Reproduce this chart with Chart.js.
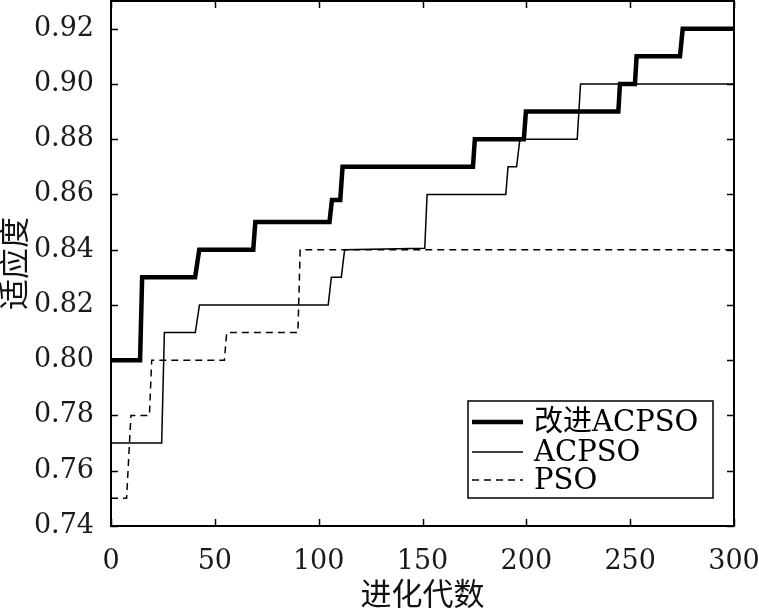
<!DOCTYPE html>
<html>
<head>
<meta charset="utf-8">
<script src="https://cdn.jsdelivr.net/npm/chart.js@4.4.0/dist/chart.umd.min.js"></script>
<style>
  html, body { margin: 0; padding: 0; background: #fff; }
  #wrap { width: 759px; height: 608px; }
</style>
</head>
<body>
<div id="wrap"><canvas id="chart"></canvas></div>
<script>
// Data (generation, fitness) for each step curve
const improvedGen = [0, 14, 15, 40.5, 42.5, 68.5, 69.5, 105.2, 106.4, 110.4, 111.5, 174.3, 175.2, 198.8, 199.8, 244.3, 245.1, 252.3, 253.1, 274, 275.3, 300];
const improvedVal = [0.80, 0.80, 0.83, 0.83, 0.84, 0.84, 0.85, 0.85, 0.858, 0.858, 0.87, 0.87, 0.88, 0.88, 0.89, 0.89, 0.90, 0.90, 0.91, 0.91, 0.92, 0.92];

const acpsoGen = [0, 24.4, 25.7, 40.6, 42.6, 104.6, 106.1, 110.9, 112.5, 151.1, 152.2, 190.1, 191.2, 195.3, 196.9, 224.5, 226.1, 300];
const acpsoVal = [0.77, 0.77, 0.81, 0.81, 0.82, 0.82, 0.83, 0.83, 0.84, 0.8405, 0.86, 0.86, 0.87, 0.87, 0.88, 0.88, 0.90, 0.90];

const psoGen = [0, 7.5, 9.6, 18.5, 19.6, 54.6, 55.7, 90, 91.1, 300];
const psoVal = [0.75, 0.75, 0.78, 0.78, 0.80, 0.80, 0.81, 0.81, 0.84, 0.84];

const seriesNames = ['改进ACPSO', 'ACPSO', 'PSO'];
const xTicks = [0, 50, 100, 150, 200, 250, 300];
const yTicks = [0.74, 0.76, 0.78, 0.80, 0.82, 0.84, 0.86, 0.88, 0.90, 0.92];

const serif = "'DejaVu Serif', serif";
const cjk = "'Noto Sans CJK SC', sans-serif";

function toPoints(gens, vals) {
  return gens.map((g, i) => ({ x: g, y: vals[i] }));
}

// frame, inward ticks on all four sides, and the boxed legend
const framePlugin = {
  id: 'frame',
  afterDatasetsDraw(chart) {
    const { ctx, chartArea: a, scales } = chart;
    const len = 7;
    ctx.save();
    ctx.strokeStyle = '#000';
    ctx.lineWidth = 1.5;
    ctx.beginPath();
    xTicks.forEach(v => {
      const px = Math.round(scales.x.getPixelForValue(v)) + 0.5;
      ctx.moveTo(px, a.bottom); ctx.lineTo(px, a.bottom - len);
      ctx.moveTo(px, a.top); ctx.lineTo(px, a.top + len);
    });
    yTicks.forEach(v => {
      const py = Math.round(scales.y.getPixelForValue(v)) + 0.5;
      ctx.moveTo(a.left, py); ctx.lineTo(a.left + len, py);
      ctx.moveTo(a.right, py); ctx.lineTo(a.right - len, py);
    });
    ctx.stroke();
    ctx.lineWidth = 2;
    ctx.strokeRect(a.left, a.top, a.right - a.left, a.bottom - a.top);

    // legend
    const lx = 468, ly = 401, lw = 245, lh = 97;
    ctx.fillStyle = '#fff';
    ctx.fillRect(lx, ly, lw, lh);
    ctx.lineWidth = 1.5;
    ctx.strokeRect(lx, ly, lw, lh);
    ctx.textBaseline = 'middle';
    const rows = [422, 452, 480];
    chart.data.datasets.forEach((ds, i) => {
      ctx.beginPath();
      ctx.strokeStyle = ds.borderColor;
      ctx.lineWidth = ds.borderWidth;
      ctx.setLineDash(ds.borderDash || []);
      ctx.moveTo(472, rows[i]); ctx.lineTo(523, rows[i]);
      ctx.stroke();
      ctx.setLineDash([]);
      ctx.fillStyle = '#000';
      ctx.font = '29px ' + serif + ", 'Noto Sans CJK SC'";
      ctx.fillText(ds.label, 534, rows[i] + 1);
    });
    ctx.restore();
  }
};

new Chart(document.getElementById('chart'), {
  type: 'line',
  data: {
    datasets: [
      { label: seriesNames[0], data: toPoints(improvedGen, improvedVal), borderColor: '#000', borderWidth: 4.5 },
      { label: seriesNames[1], data: toPoints(acpsoGen, acpsoVal), borderColor: '#000', borderWidth: 1.5 },
      { label: seriesNames[2], data: toPoints(psoGen, psoVal), borderColor: '#000', borderWidth: 1.5, borderDash: [7, 5] }
    ]
  },
  options: {
    responsive: true,
    maintainAspectRatio: false,
    animation: false,
    layout: { padding: { top: 1, right: 25, left: 0, bottom: 0 } },
    elements: { point: { radius: 0 }, line: { tension: 0, fill: false, borderCapStyle: 'butt' } },
    plugins: { legend: { display: false }, tooltip: { enabled: false } },
    scales: {
      x: {
        type: 'linear',
        min: 0,
        max: 300,
        afterBuildTicks: s => { s.ticks = xTicks.map(v => ({ value: v })); },
        afterFit: s => { s.height = 82; s.paddingLeft = 0; s.paddingRight = 0; },
        grid: { display: false },
        border: { display: false },
        ticks: { color: '#1a1a1a', font: { family: serif, size: 27 }, padding: 12, maxRotation: 0 },
        title: { display: true, text: '进化代数', color: '#111', font: { family: cjk, size: 31 }, padding: { top: 0, bottom: -4 } }
      },
      y: {
        min: 0.74,
        max: 0.93,
        afterBuildTicks: s => { s.ticks = yTicks.map(v => ({ value: v })); },
        afterFit: s => { s.width = 111; s.paddingTop = 0; s.paddingBottom = 0; },
        grid: { display: false },
        border: { display: false },
        ticks: { color: '#1a1a1a', font: { family: serif, size: 27 }, padding: 9, callback: v => v.toFixed(2) },
        title: { display: true, text: '适应度', color: '#111', font: { family: cjk, size: 31, lineHeight: 1 }, padding: { top: -2, bottom: 0 } }
      }
    }
  },
  plugins: [framePlugin]
});
</script>
</body>
</html>
